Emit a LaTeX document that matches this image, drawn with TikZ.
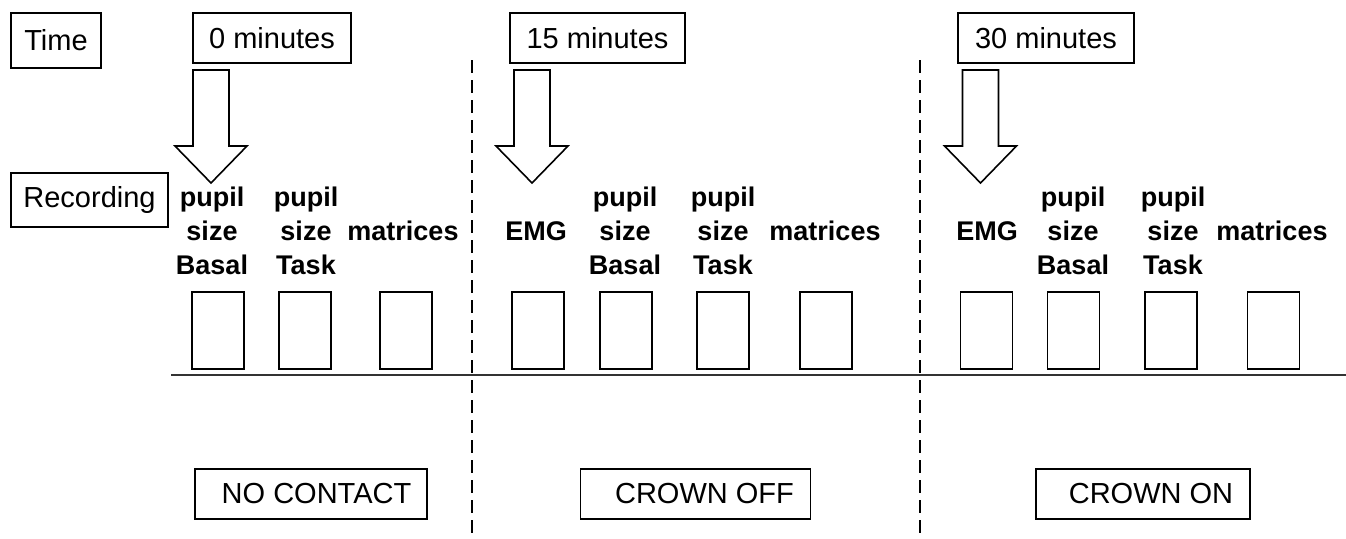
\documentclass[tikz,border=0pt]{standalone}
\usepackage{fontspec}
\setmainfont{Liberation Sans}
\begin{document}
\begin{tikzpicture}[x=1pt,y=-1pt,
  lbl/.style={draw=black,line width=1.6pt,rectangle,inner sep=0pt,
     font=\fontsize{29}{34}\selectfont},
  slot/.style={draw=black,line width=1.6pt,rectangle,inner sep=0pt,
     minimum width=52pt,minimum height=77pt},
  meas/.style={inner sep=0pt,align=center,
     font=\fontsize{27}{34}\selectfont\bfseries},
  sep/.style={line width=1.5pt,dash pattern=on 13pt off 7pt},
  axis/.style={line width=2pt,draw=black!80},
  blockarrow/.style={draw=black,line width=1.6pt,fill=white,line join=miter}
]
\useasboundingbox (0,0) rectangle (1346,538);

% header boxes
\node[lbl,minimum width=90pt,minimum height=55pt] (time) at (56,40.5) {Time};
\node[lbl,minimum width=157pt,minimum height=54pt] (rec) at (89.5,200) {Recording};
\node[lbl,minimum width=158pt,minimum height=50pt] (t0) at (272,38) {0 minutes};
\node[lbl,minimum width=175pt,minimum height=50pt] (t15) at (597.5,38) {15 minutes};
\node[lbl,minimum width=176pt,minimum height=50pt] (t30) at (1046,38) {30 minutes};

% block arrows
\coordinate (a0) at (211,70);
\coordinate (a15) at (532,70);
\coordinate (a30) at (980.5,70);
\foreach \c in {a0,a15,a30}{
  \draw[blockarrow] (\c) ++(-18,0) -- ++(36,0) -- ++(0,76) -- ++(18,0)
     -- ++(-36,37) -- ++(-36,-37) -- ++(18,0) -- cycle;
}

% separators
\coordinate (s1t) at (472,60); \coordinate (s1b) at (472,538);
\coordinate (s2t) at (920,60); \coordinate (s2b) at (920,538);
\draw[sep] (s1t) -- (s1b);
\draw[sep] (s2t) -- (s2b);

% time axis
\coordinate (axl) at (171,375); \coordinate (axr) at (1346,375);
\draw[axis] (axl) -- (axr);

% measurement labels
\node[meas] (m1) at (212,231) {pupil\\size\\Basal};
\node[meas] (m2) at (306,231) {pupil\\size\\Task};
\node[meas] (m3) at (403,231) {matrices};
\node[meas] (m4) at (536,231) {EMG};
\node[meas] (m5) at (625,231) {pupil\\size\\Basal};
\node[meas] (m6) at (723,231) {pupil\\size\\Task};
\node[meas] (m7) at (825,231) {matrices};
\node[meas] (m8) at (987,231) {EMG};
\node[meas] (m9) at (1073,231) {pupil\\size\\Basal};
\node[meas] (m10) at (1173,231) {pupil\\size\\Task};
\node[meas] (m11) at (1272,231) {matrices};

% slots
\node[slot] (b1) at (218,330.5) {};
\node[slot] (b2) at (305,330.5) {};
\node[slot] (b3) at (406,330.5) {};
\node[slot] (b4) at (538,330.5) {};
\node[slot] (b5) at (626,330.5) {};
\node[slot] (b6) at (723,330.5) {};
\node[slot] (b7) at (826,330.5) {};
\node[slot] (b8) at (986.5,330.5) {};
\node[slot] (b9) at (1073.5,330.5) {};
\node[slot] (b10) at (1171,330.5) {};
\node[slot] (b11) at (1273.5,330.5) {};

% conditions
\node[lbl,minimum width=232pt,minimum height=50pt] (c1) at (311,494) {\hspace*{11pt}NO CONTACT};
\node[lbl,minimum width=230pt,minimum height=50pt] (c2) at (695.5,494) {\hspace*{18pt}CROWN OFF};
\node[lbl,minimum width=214pt,minimum height=50pt] (c3) at (1143,494) {\hspace*{16pt}CROWN ON};
\end{tikzpicture}
\end{document}
